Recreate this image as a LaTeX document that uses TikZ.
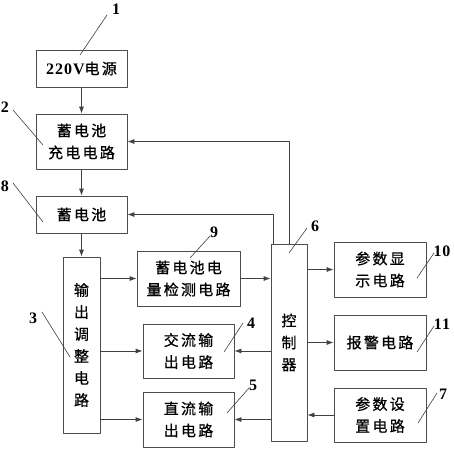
\documentclass[tikz,border=0pt]{standalone}
\usepackage{fontspec}
\setmainfont{Liberation Serif}
\newfontfamily\cjk[LetterSpace=15,FakeBold=0.8]{Noto Sans CJK SC}
\newfontfamily\numfont[LetterSpace=6]{Liberation Serif}
\usetikzlibrary{arrows.meta}

\begin{document}
\begin{tikzpicture}[line cap=round,line join=round,x=1pt,y=-1pt,
  >={Latex[length=7pt,width=5pt]},
  box/.style={draw=black!70, line width=0.8pt, align=center, inner sep=0pt,
    font=\fontsize{15}{22}\selectfont\cjk},
  conn/.style={->, draw=black!75, line width=0.8pt},
  num/.style={inner sep=0pt, font=\fontsize{16}{16}\selectfont\numfont\bfseries},
  lead/.style={draw=black!75, line width=0.6pt}]
\useasboundingbox (0,0) rectangle (454,450);

% left column
\node[box, minimum width=91pt, minimum height=37pt] (power) at (81.5,68.5) {{\fontsize{16}{22}\selectfont\numfont\bfseries 220V}电源};
\node[box, minimum width=91pt, minimum height=55pt] (charge) at (81.5,141.5) {蓄电池\\充电电路};
\node[box, minimum width=91pt, minimum height=37pt] (batt) at (81.5,214.5) {蓄电池};
\node[box, minimum width=37pt, minimum height=176pt] (adjust) at (81.5,345) {输\\出\\调\\整\\电\\路};

% middle column
\node[box, minimum width=103pt, minimum height=55pt] (detect) at (188.5,278.5) {蓄电池电\\量检测电路};
\node[box, minimum width=91pt, minimum height=54pt] (acout) at (188.5,351) {交流输\\出电路};
\node[box, minimum width=91pt, minimum height=55pt] (dcout) at (188.5,419.5) {直流输\\出电路};
\node[box, minimum width=36pt, minimum height=197pt] (ctrl) at (289,342.5) {控\\制\\器};

% right column
\node[box, minimum width=92pt, minimum height=55pt] (display) at (380,269.5) {参数显\\示电路};
\node[box, minimum width=92pt, minimum height=55pt] (alarm) at (380,342.5) {报警电路};
\node[box, minimum width=92pt, minimum height=54pt] (setting) at (380,415) {参数设\\置电路};

% connectors
\draw[conn] (power) -- (charge);
\draw[conn] (charge) -- (batt);
\draw[conn] (batt) -- (adjust);
\draw[conn] (adjust.east |- detect) -- (detect);
\draw[conn] (adjust.east |- acout) -- (acout);
\draw[conn] (adjust.east |- dcout) -- (dcout);
\draw[conn] (detect) -- (ctrl.west |- detect);
\draw[conn] (ctrl.west |- acout) -- (acout);
\draw[conn] (ctrl.west |- dcout) -- (dcout);
\draw[conn] (ctrl.east |- display) -- (display);
\draw[conn] (ctrl.east |- alarm) -- (alarm);
\draw[conn] (setting) -- (ctrl.east |- setting);
\draw[conn] ([xshift=3pt]ctrl.north west) |- (batt);
\draw[conn] (ctrl.north) |- (charge);

% reference numbers
\foreach \t/\p/\a/\b in {1/{116,9}/{107,15}/{80,55}, 2/{5,107}/{13,110}/{43,145},
    8/{5,186}/{13,183}/{43,222}, 9/{214,232}/{210,236}/{190,258},
    3/{33,318}/{42,312}/{70,357}, 4/{251,323}/{243,323}/{224,352},
    5/{253,385}/{249,388}/{227,413}, 6/{315,226}/{307,228}/{289,253},
    10/{442,251}/{434,253}/{417,278}, 11/{442,324}/{434,326}/{417,352},
    7/{443,394}/{437,393}/{418,423}} {
  \node[num] (n\t) at (\p) {\t};
  \coordinate (a\t) at (\a);
  \coordinate (b\t) at (\b);
  \draw[lead] (a\t) -- (b\t);
}
\end{tikzpicture}
\end{document}
